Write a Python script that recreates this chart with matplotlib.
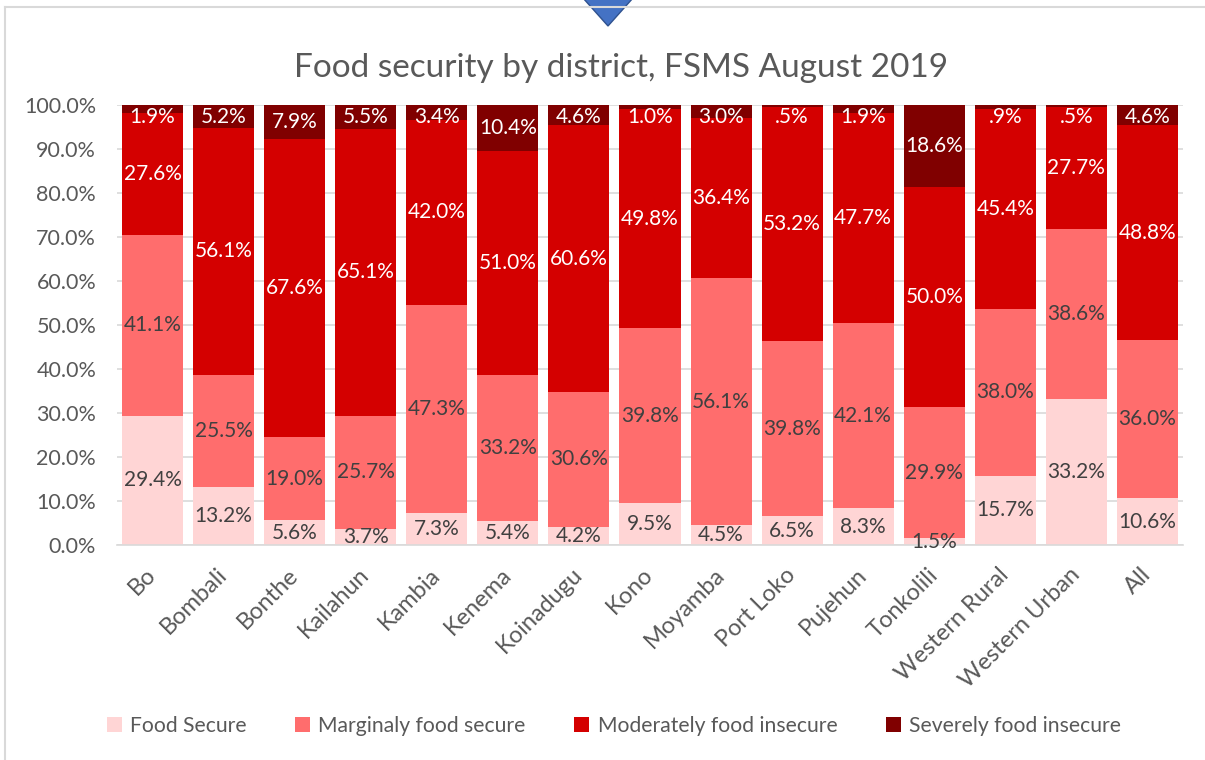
#!/usr/bin/env python3

import numpy as np
import matplotlib
matplotlib.use("Agg")
import matplotlib.pyplot as plt
from matplotlib.patches import Polygon
from matplotlib.lines import Line2D

# Food security shares (%) by district, FSMS August 2019
districts = ["Bo", "Bombali", "Bonthe", "Kailahun", "Kambia", "Kenema", "Koinadugu",
             "Kono", "Moyamba", "Port Loko", "Pujehun", "Tonkolili",
             "Western Rural", "Western Urban", "All"]
food_secure = [29.4, 13.2, 5.6, 3.7, 7.3, 5.4, 4.2, 9.5, 4.5, 6.5, 8.3, 1.5, 15.7, 33.2, 10.6]
marginal = [41.1, 25.5, 19.0, 25.7, 47.3, 33.2, 30.6, 39.8, 56.1, 39.8, 42.1, 29.9, 38.0, 38.6, 36.0]
moderate = [27.6, 56.1, 67.6, 65.1, 42.0, 51.0, 60.6, 49.8, 36.4, 53.2, 47.7, 50.0, 45.4, 27.7, 48.8]
severe = [1.9, 5.2, 7.9, 5.5, 3.4, 10.4, 4.6, 1.0, 3.0, 0.5, 1.9, 18.6, 0.9, 0.5, 4.6]

series_names = ["Food Secure", "Marginaly food secure",
                "Moderately food insecure", "Severely food insecure"]
series_colors = ["#FFD5D5", "#FF6D6D", "#D40000", "#800000"]
label_colors = ["#404040", "#404040", "white", "white"]

plt.rcParams["font.family"] = ["Lato", "DejaVu Sans"]


def fmt_pct(v):
    # excel style "#.0%" -> no leading zero
    s = f"{v:.1f}%"
    if s.startswith("0."):
        s = s[1:]
    return s


fig = plt.figure(figsize=(12.05, 7.6), dpi=100)
ax = fig.add_axes([117 / 1205, 1 - 545 / 760, (1183 - 117) / 1205, 440 / 760])

x = np.arange(len(districts))
bottom = np.zeros(len(districts))
for vals, name, col, lcol in zip([food_secure, marginal, moderate, severe],
                                 series_names, series_colors, label_colors):
    vals = np.array(vals)
    ax.bar(x, vals, 0.86, bottom=bottom, color=col, label=name, zorder=2)
    for xi, b, v in zip(x, bottom, vals):
        yc = min(b + v / 2, 97.3)
        ax.text(xi, yc, fmt_pct(v), ha="center", va="center",
                fontsize=15, color=lcol, zorder=3)
    bottom = bottom + vals

ax.set_xlim(-0.5, len(districts) - 0.5)
ax.set_ylim(0, 100)
ax.set_yticks(np.arange(0, 101, 10))
ax.set_yticklabels([f"{t:.1f}%" for t in np.arange(0, 101, 10)])
ax.set_xticks(x)
ax.set_xticklabels(districts, rotation=45, ha="right", va="center",
                   rotation_mode="anchor")
ax.tick_params(axis="y", length=0, pad=15, labelsize=15.5, labelcolor="#595959")
ax.tick_params(axis="x", length=0, pad=19, labelsize=17, labelcolor="#595959")
ax.grid(axis="y", color="#D9D9D9", linewidth=1.2, zorder=0)
for side in ["top", "right", "left"]:
    ax.spines[side].set_visible(False)
ax.spines["bottom"].set_color("#D9D9D9")
ax.spines["bottom"].set_linewidth(1.2)

fig.text(621 / 1205, 1 - 68 / 760, "Food security by district, FSMS August 2019",
         ha="center", va="center", fontsize=24, color="#595959")

fig.legend(loc="center", bbox_to_anchor=(614 / 1205, 1 - 726 / 760), ncol=4,
           frameon=False, fontsize=15.2, handlelength=0.7, handleheight=0.7,
           handletextpad=0.4, columnspacing=2.3, labelcolor="#595959")

# chart frame and the blue marker shape at the top
fig.add_artist(Line2D([5 / 1205, 1], [1 - 7 / 760] * 2, color="#D9D9D9", lw=1.5))
fig.add_artist(Line2D([5 / 1205] * 2, [0, 1 - 7 / 760], color="#D9D9D9", lw=1.5))
tri = Polygon([[578 / 1205, 1.01], [638 / 1205, 1.01], [608 / 1205, 1 - 26 / 760]],
              closed=True, facecolor="#4472C4", edgecolor="#2F528F", lw=1,
              transform=fig.transFigure)
fig.add_artist(tri)

fig.savefig("out.png", dpi=100)
